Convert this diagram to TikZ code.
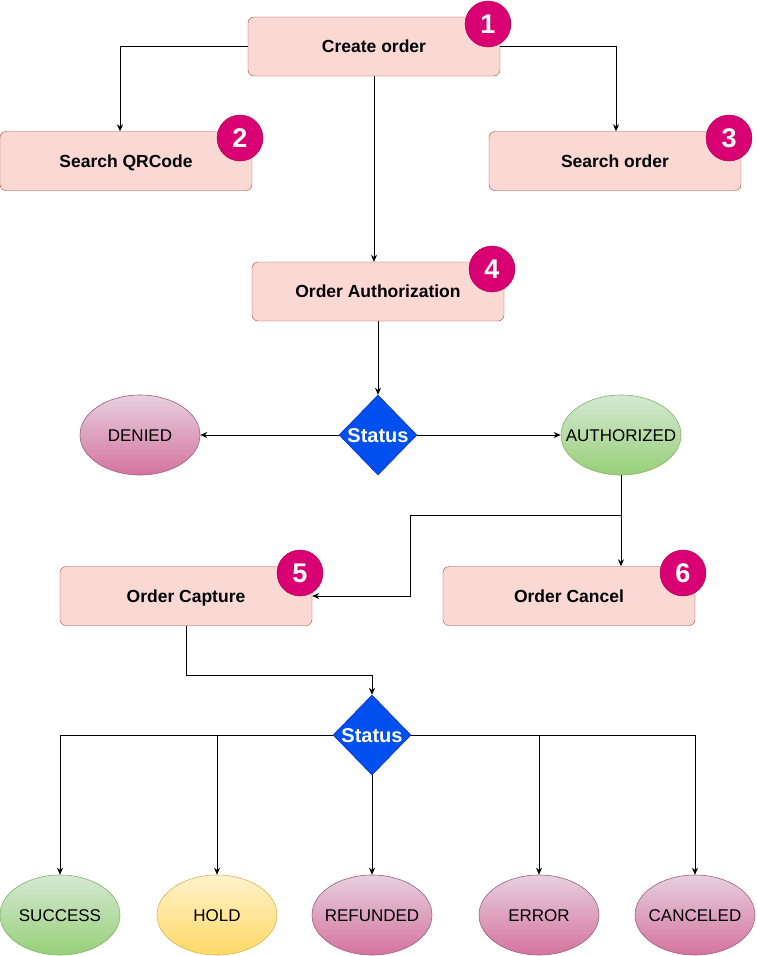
\documentclass[tikz,border=0pt]{standalone}
\usepackage{fontspec}
\setmainfont{Liberation Sans}
\usetikzlibrary{shapes.geometric,arrows.meta}
\definecolor{boxfill}{HTML}{FAD9D5}
\definecolor{boxline}{HTML}{AE4132}
\definecolor{badgefill}{HTML}{D80073}
\definecolor{badgeline}{HTML}{A50040}
\definecolor{diafill}{HTML}{0050EF}
\definecolor{dialine}{HTML}{001DBC}
\definecolor{pinktop}{HTML}{E6D0DE}
\definecolor{pinkbot}{HTML}{D5739D}
\definecolor{pinkline}{HTML}{996185}
\definecolor{greentop}{HTML}{D5E8D4}
\definecolor{greenbot}{HTML}{97D077}
\definecolor{greenline}{HTML}{82B366}
\definecolor{yellowtop}{HTML}{FFF2CC}
\definecolor{yellowbot}{HTML}{FFD966}
\definecolor{yellowline}{HTML}{D6B656}
\begin{document}
\begin{tikzpicture}[x=1pt, y=-1pt, every node/.style={font=\fontsize{17}{20}\selectfont},
  task/.style={draw=boxline, fill=boxfill, rounded corners=6pt, minimum width=252pt, minimum height=59pt, text height=12.6pt, text depth=0pt, font=\fontsize{17.5}{20}\selectfont\bfseries},
  badge/.style={circle, draw=badgeline, fill=badgefill, minimum size=46pt, inner sep=0pt, text height=19pt, text depth=0pt, text=white, font=\fontsize{27}{30}\selectfont\bfseries},
  status/.style={diamond, draw=dialine, fill=diafill, minimum width=78pt, minimum height=80pt, inner sep=0pt, text height=14.3pt, text depth=0pt, text=white, font=\fontsize{20}{24}\selectfont\bfseries},
  result/.style={ellipse, minimum width=120pt, minimum height=80pt, inner sep=0pt, text height=12.2pt, text depth=0pt, line width=0.6pt},
  denial/.style={result, draw=pinkline, top color=pinktop, bottom color=pinkbot},
  okay/.style={result, draw=greenline, top color=greentop, bottom color=greenbot},
  waiting/.style={result, draw=yellowline, top color=yellowtop, bottom color=yellowbot},
  arr/.style={-{Stealth[length=7pt,width=6pt]}, line width=0.8pt}]
\useasboundingbox (0,0) rectangle (756,956);
\node[task] (create) at (374,46.5) {Create order};
\node[task] (qr) at (126,161) {Search QRCode};
\node[task] (srch) at (615,161) {Search order};
\node[task] (auth) at (378,291.5) {Order Authorization};
\node[status] (st1) at (378,435) {\makebox[0pt]{Status}};
\node[denial] (denied) at (140,435) {\makebox[0pt]{DENIED}};
\node[okay] (authd) at (621,435) {\makebox[0pt]{AUTHORIZED}};
\node[task] (cap) at (186,596) {Order Capture};
\node[task] (cancel) at (569,596) {Order Cancel};
\node[status] (st2) at (372,735) {\makebox[0pt]{Status}};
\node[okay] (succ) at (60,915) {\makebox[0pt]{SUCCESS}};
\node[waiting] (hold) at (217,915) {\makebox[0pt]{HOLD}};
\node[denial] (refd) at (372,915) {\makebox[0pt]{REFUNDED}};
\node[denial] (err) at (539,915) {\makebox[0pt]{ERROR}};
\node[denial] (canc) at (695,915) {\makebox[0pt]{CANCELED}};
\draw[arr] (create.west) -| ([xshift=-6pt]qr.north);
\draw[arr] (create.east) -| ([xshift=1pt]srch.north);
\draw[arr] (create.south) -- (create.south |- auth.north);
\draw[arr] (auth.south) -- (st1.north);
\draw[arr] (st1.west) -- (denied.east);
\draw[arr] (st1.east) -- (authd.west);
\draw[arr] (authd.south) |- (410,515) |- (cap.east);
\draw[arr] (authd.south) -- (authd.south |- cancel.north);
\draw[arr] (cap.south) |- (372,675) -- (st2.north);
\draw[arr] (st2.west) -| (succ.north);
\draw[arr] (st2.west -| hold.north) -- (hold.north);
\draw[arr] (st2.south) -- (refd.north);
\draw[arr] (st2.east) -| (err.north);
\draw[arr] (st2.east -| err.north) -| (canc.north);
\node[badge] (b1) at (488,24) {1};
\node[badge] (b2) at (240,138) {2};
\node[badge] (b3) at (729,138) {3};
\node[badge] (b4) at (492,269) {4};
\node[badge] (b5) at (300,573) {5};
\node[badge] (b6) at (683,573) {6};
\end{tikzpicture}
\end{document}
